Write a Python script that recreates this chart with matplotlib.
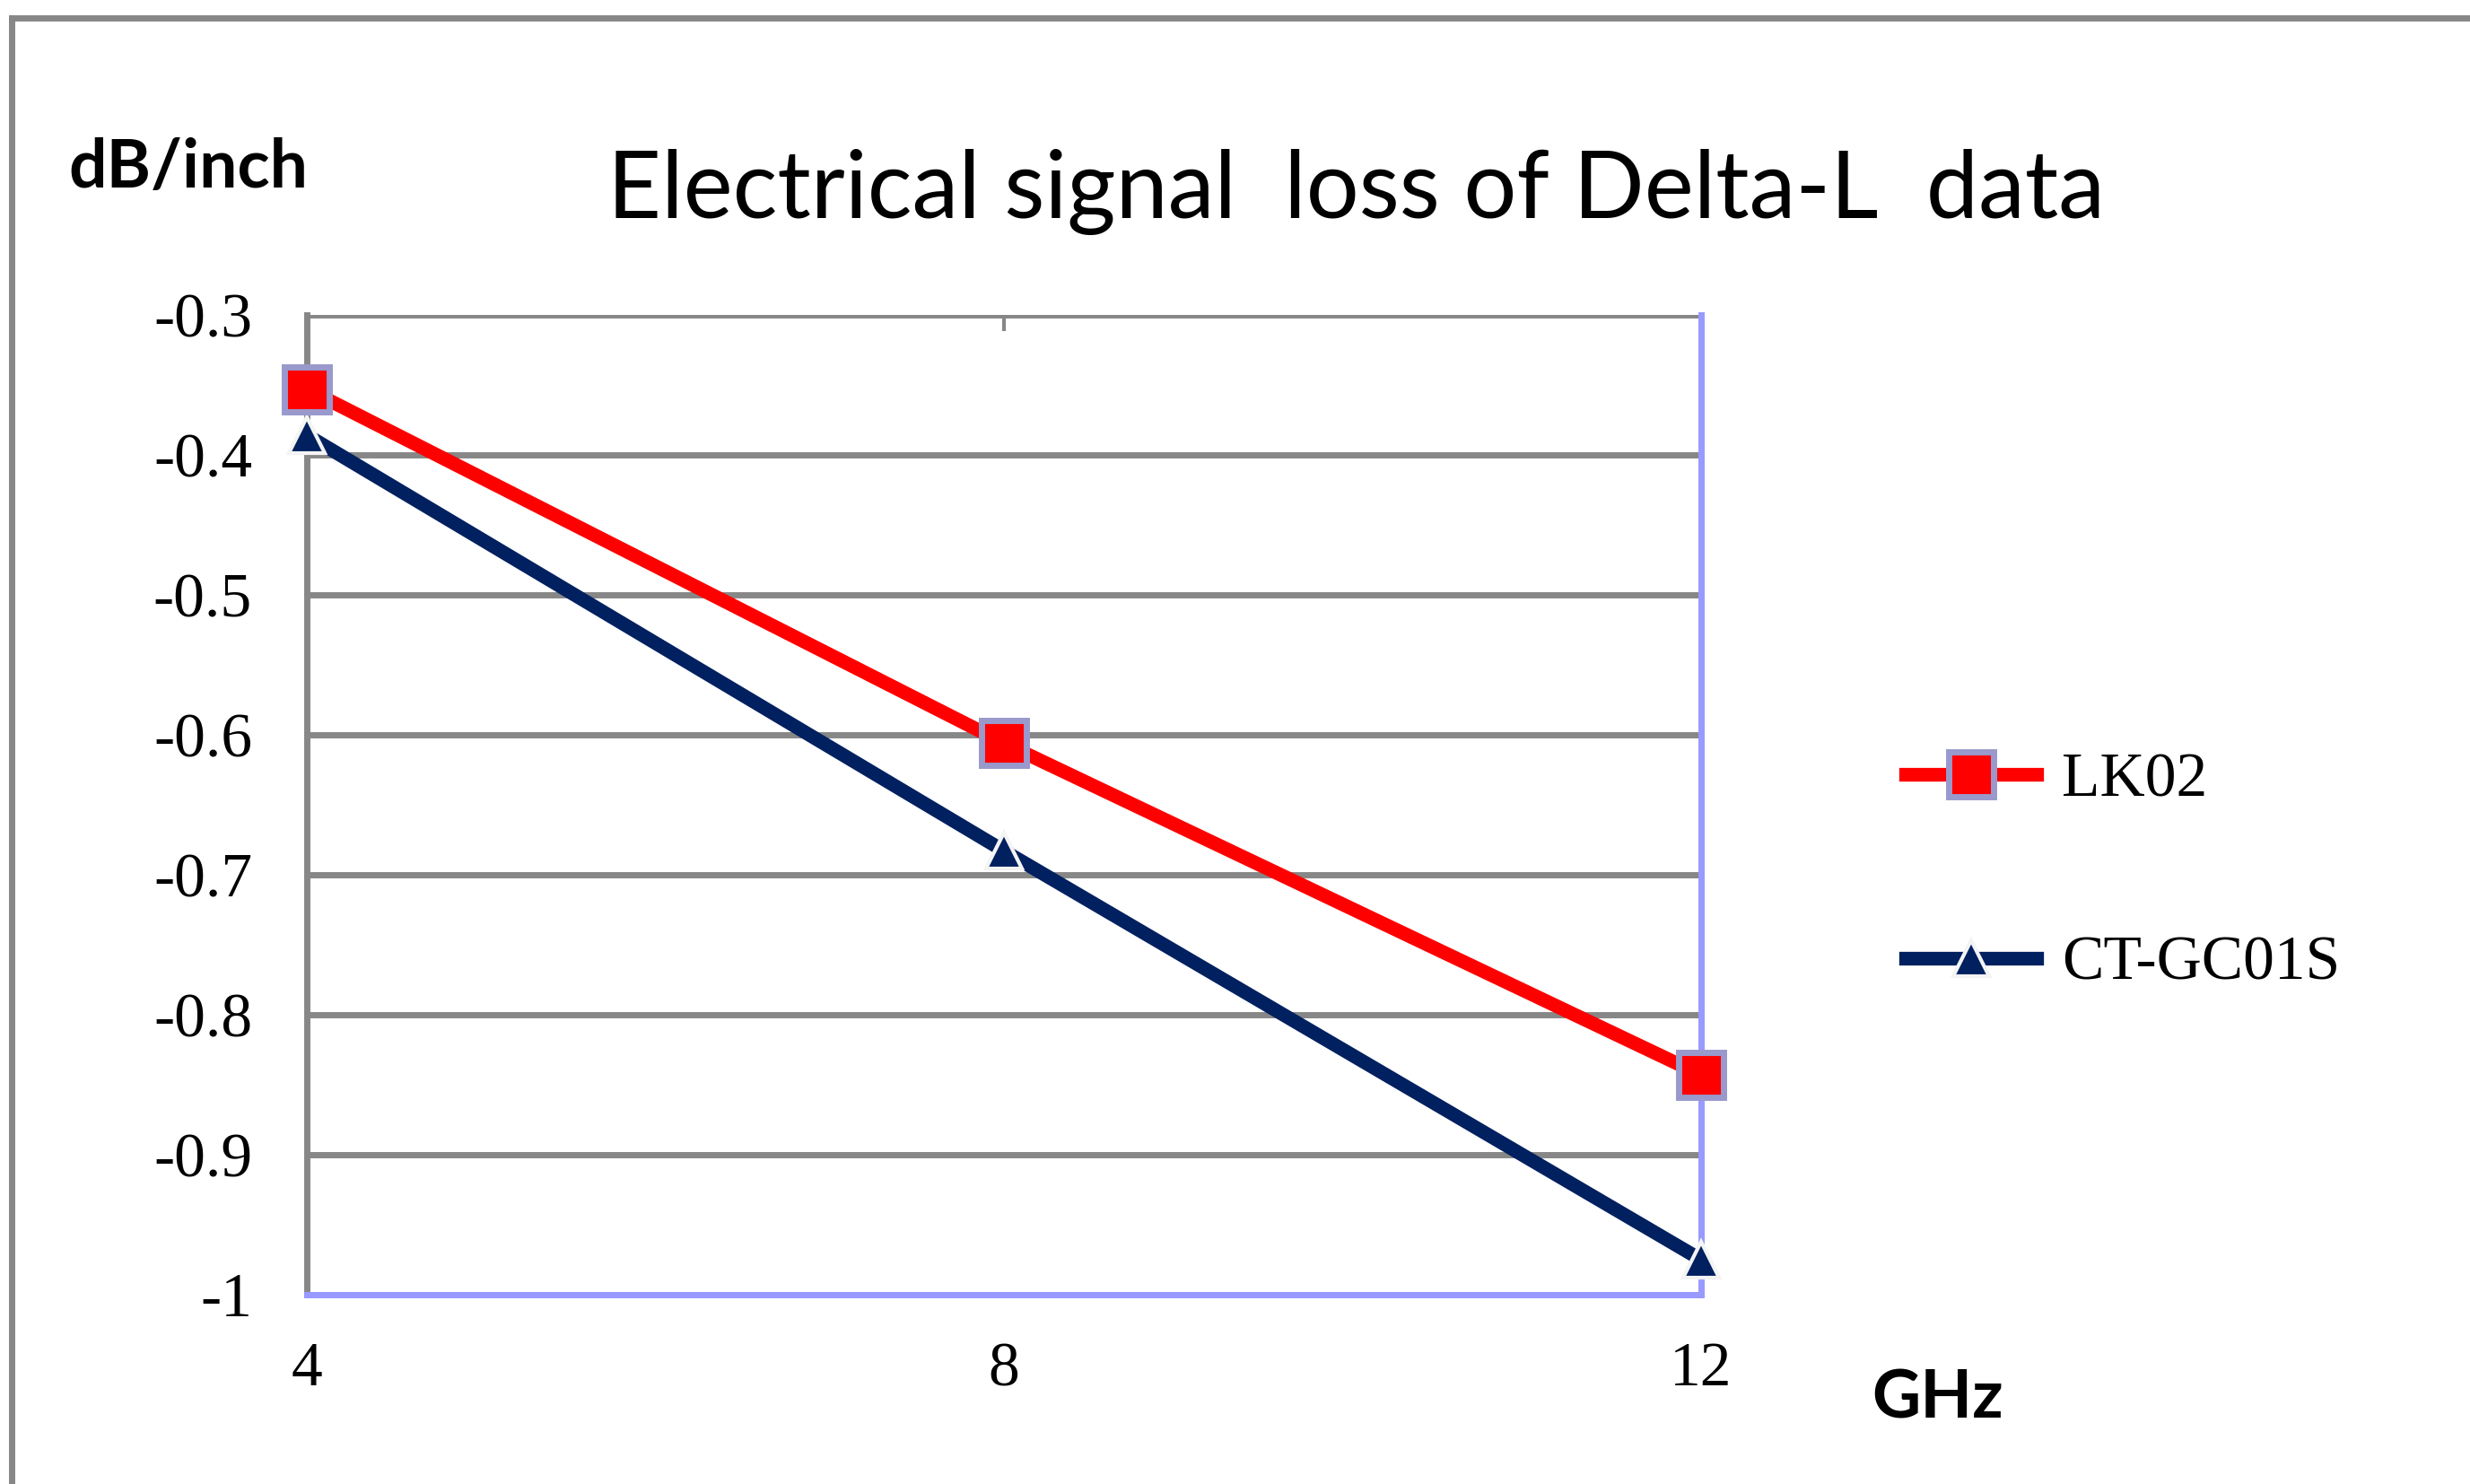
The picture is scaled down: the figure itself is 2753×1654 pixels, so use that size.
import matplotlib.pyplot as plt
from matplotlib.lines import Line2D

# values
freq_ghz = [4, 8, 12]
lk02 = [-0.353, -0.606, -0.843]
ct_gc01s = [-0.386, -0.683, -0.975]
y_ticks = [-1.0, -0.9, -0.8, -0.7, -0.6, -0.5, -0.4, -0.3]
y_tick_labels = ["-1", "-0.9", "-0.8", "-0.7", "-0.6", "-0.5", "-0.4", "-0.3"]

GRAY = "#878787"
AXIS_BLUE = "#9999ff"
SERIF = ["Liberation Serif", "DejaVu Serif"]
SANS = ["Lato", "DejaVu Sans"]

fig = plt.figure(figsize=(27.53, 16.54), dpi=100)
ax = fig.add_axes([0.1243, 0.1276, 0.5644, 0.6602])

ax.plot(freq_ghz, lk02, color="#ff0000", lw=11, marker="s", ms=36,
        mfc="#ff0000", mec="#9999cc", mew=5, label="LK02", zorder=4, clip_on=False)
ax.plot(freq_ghz, ct_gc01s, color="#002060", lw=11, marker="^", ms=29,
        mfc="#002060", mec="#f4f4f4", mew=3, label="CT-GC01S", zorder=3, clip_on=False)

ax.set_xlim(4, 12)
ax.set_ylim(-1.0, -0.3)
ax.set_xticks(freq_ghz)
ax.set_xticklabels([str(f) for f in freq_ghz], fontsize=50, family=SERIF)
ax.set_yticks(y_ticks)
ax.set_yticklabels(y_tick_labels, fontsize=50, family=SERIF)
ax.tick_params(axis="y", length=0, pad=44)
ax.tick_params(axis="x", top=True, bottom=False, labeltop=False, labelbottom=True,
               direction="in", length=13, width=3, color=GRAY, pad=38)

ax.yaxis.grid(True, color=GRAY, lw=5)
ax.set_axisbelow(True)
ax.spines["top"].set_visible(False)
ax.spines["left"].set_color(GRAY)
ax.spines["left"].set_linewidth(5)
ax.spines["bottom"].set_color(AXIS_BLUE)
ax.spines["bottom"].set_linewidth(5)
ax.spines["right"].set_color(AXIS_BLUE)
ax.spines["right"].set_linewidth(5)
ax.spines["right"].set_zorder(2)

fig.text(0.549, 0.8706, "Electrical signal  loss of Delta-L  data",
         fontsize=75, family=SANS, ha="center", va="center")
fig.text(0.0762, 0.8864, "dB/inch", fontsize=54, fontweight="bold",
         family=SANS, ha="center", va="center")
fig.text(0.7845, 0.0574, "GHz", fontsize=54, fontweight="bold",
         family=SANS, ha="center", va="center")

fig.legend(loc="center left", bbox_to_anchor=(0.7716, 0.4118), frameon=False,
           prop={"family": SERIF, "size": 50}, handlelength=2.1,
           handletextpad=0.4, labelspacing=2.03, borderpad=0, borderaxespad=0)

# outer chart border (top and left edges only are visible)
fig.add_artist(Line2D([0.0047, 0.0047], [0.0, 0.988], color=GRAY, lw=5,
                      transform=fig.transFigure))
fig.add_artist(Line2D([0.0047, 1.0], [0.988, 0.988], color=GRAY, lw=5,
                      transform=fig.transFigure))

fig.savefig("out.png", dpi=100)
